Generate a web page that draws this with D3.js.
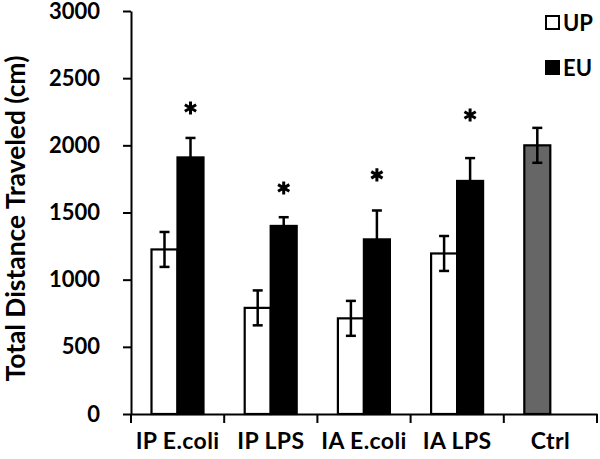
<!DOCTYPE html>
<html>
<head>
<meta charset="utf-8">
<script src="https://cdn.jsdelivr.net/npm/d3@7"></script>
<style>
  body { margin: 0; background: #fff; }
  text { font-family: Lato, "Open Sans", sans-serif; font-weight: bold; fill: #000; }
</style>
</head>
<body>
<div id="chart"></div>
<script>
// Data
const categories = ["IP E.coli", "IP LPS", "IA E.coli", "IA LPS", "Ctrl"];
const seriesNames = ["UP", "EU"];
const upMeans = [1225, 790, 712, 1195];
const upErrors = [130, 130, 130, 130];
const euMeans = [1910, 1400, 1300, 1735];
const euErrors = [145, 65, 215, 170];
const ctrlMean = 2000;
const ctrlError = 130;
const starLevels = [2278, 1683, 1780, 2226]; // where the * sits, in cm
const yTicks = [0, 500, 1000, 1500, 2000, 2500, 3000];

const W = 600, H = 459;
const M = {LEFT: 131, RIGHT: 3, TOP: 11, BOTTOM: 45};

const svg = d3.select("#chart").append("svg")
  .attr("width", W).attr("height", H);

const x = d3.scaleBand().domain(categories).range([M.LEFT, W - M.RIGHT]);
const xSub = d3.scaleBand().domain(seriesNames).range([20.5, 72.5]);
const y = d3.scaleLinear().domain([0, 3000]).range([H - M.BOTTOM, M.TOP]);

// bar records
const bars = [];
upMeans.forEach((v, i) => bars.push({cat: categories[i], s: "UP", v: v, e: upErrors[i], fill: "#fff"}));
euMeans.forEach((v, i) => bars.push({cat: categories[i], s: "EU", v: v, e: euErrors[i], fill: "#000"}));
bars.push({cat: "Ctrl", s: "UP", v: ctrlMean, e: ctrlError, fill: "#666"});

const g = svg.append("g");

g.selectAll("rect.bar").data(bars).join("rect")
  .attr("class", "bar")
  .attr("x", d => x(d.cat) + xSub(d.s))
  .attr("width", xSub.bandwidth())
  .attr("y", d => y(d.v))
  .attr("height", d => y(0) - y(d.v))
  .attr("fill", d => d.fill)
  .attr("stroke", "#000")
  .attr("stroke-width", 2.2);

// error bars
const eb = g.selectAll("g.err").data(bars).join("g").attr("class", "err")
  .attr("stroke", "#000").attr("stroke-width", 2.5);
const cx = d => x(d.cat) + xSub(d.s) + xSub.bandwidth() / 2;
eb.append("line")
  .attr("x1", cx).attr("x2", cx)
  .attr("y1", d => y(d.v + d.e)).attr("y2", d => y(d.v - d.e));
eb.append("line")
  .attr("x1", d => cx(d) - 5).attr("x2", d => cx(d) + 5)
  .attr("y1", d => y(d.v + d.e)).attr("y2", d => y(d.v + d.e));
eb.append("line")
  .attr("x1", d => cx(d) - 5).attr("x2", d => cx(d) + 5)
  .attr("y1", d => y(d.v - d.e)).attr("y2", d => y(d.v - d.e));

// significance stars
const star = d3.symbol(d3.symbolAsterisk, 120);
g.selectAll("path.star").data(starLevels).join("path")
  .attr("class", "star")
  .attr("transform", (d, i) =>
    `translate(${x(categories[i]) + xSub("EU") + xSub.bandwidth() / 2},${y(d)})`)
  .attr("d", star)
  .attr("fill", "none")
  .attr("stroke", "#000")
  .attr("stroke-width", 3);

// axes
const yAxis = svg.append("g")
  .attr("transform", `translate(${M.LEFT},0)`)
  .call(d3.axisLeft(y).tickValues(yTicks).tickFormat(d3.format("d"))
    .tickSize(8).tickPadding(23).tickSizeOuter(0));
const xAxis = svg.append("g")
  .attr("transform", `translate(0,${y(0)})`)
  .call(d3.axisBottom(x).tickSize(8).tickPadding(11).tickSizeOuter(0));

// ticks sit at the band edges
xAxis.selectAll(".tick line").remove();
xAxis.selectAll("line.edge").data(categories.concat(["_end"])).join("line")
  .attr("class", "edge")
  .attr("x1", d => d === "_end" ? x.range()[1] : x(d))
  .attr("x2", d => d === "_end" ? x.range()[1] : x(d))
  .attr("y1", 0).attr("y2", 9)
  .attr("stroke", "#000").attr("stroke-width", 2);

[yAxis, xAxis].forEach(a => {
  a.select(".domain").attr("stroke-width", 2);
  a.selectAll(".tick line").attr("stroke-width", 2);
  a.selectAll(".tick text").style("font-size", "22px").style("font-family", "Lato, sans-serif");
});
xAxis.selectAll(".tick text").style("font-size", "23px").style("letter-spacing", "0.4px");

// y axis title
svg.append("text")
  .attr("transform", `translate(25,${(37 + 400) / 2}) rotate(-90)`)
  .attr("text-anchor", "middle")
  .style("font-size", "26.4px")
  .text("Total Distance Traveled (cm)");

// legend
const legend = svg.append("g").attr("transform", "translate(545,15)");
const legItems = [{name: "UP", fill: "#fff"}, {name: "EU", fill: "#000"}];
const li = legend.selectAll("g").data(legItems).join("g")
  .attr("transform", (d, i) => `translate(0,${i * 45})`);
li.append("rect").attr("width", 13).attr("height", 13)
  .attr("x", 1).attr("y", 1)
  .attr("fill", d => d.fill).attr("stroke", "#000").attr("stroke-width", 2);
li.append("text").attr("x", 18).attr("y", 15.5)
  .style("font-size", "22px").text(d => d.name);
</script>
</body>
</html>
